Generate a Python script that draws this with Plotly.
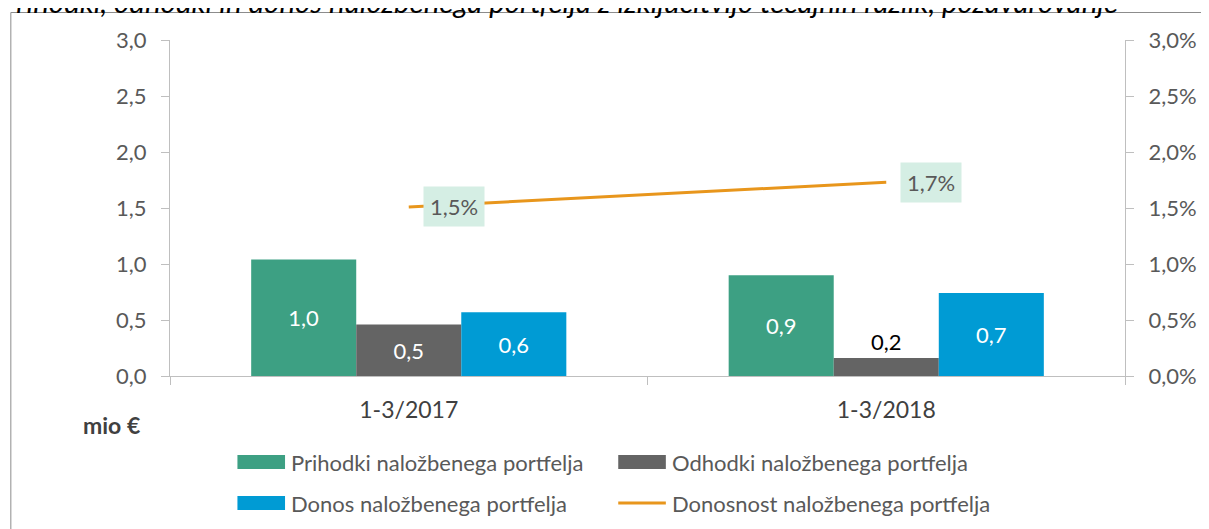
import plotly.graph_objects as go

# Data
categories = ["1-3/2017", "1-3/2018"]
prihodki = [1.04, 0.90]      # mio EUR
odhodki = [0.46, 0.16]
donos = [0.57, 0.74]
donosnost = [1.51, 1.73]     # %

names = ["Prihodki naložbenega portfelja", "Odhodki naložbenega portfelja",
         "Donos naložbenega portfelja", "Donosnost naložbenega portfelja"]
title = "Prihodki, odhodki in donos naložbenega portfelja z izključitvijo tečajnih razlik, pozavarovanje"

# Colours / fonts
c_green = "#3DA083"
c_gray = "#646464"
c_blue = "#009BD4"
c_orange = "#E8961C"
c_label_bg = "#D5EEE4"
c_text = "#595959"
c_axis = "#BFBFBF"
font = "Lato"
fs = 22

# Page pixel geometry (body has an 8px margin, so the figure is shifted)
OFF = 8
W, H = 1209 - OFF, 529 - OFF
PL, PR, PT, PB = 170, 1133, 40, 376       # plot area in page pixels
L, T = PL - OFF, PT - OFF
R, B = W - (PR - OFF), H - (PB - OFF)
pw, ph = PR - PL, PB - PT


def px(x):
    return (x - PL) / pw


def py(y):
    return (PB - y) / ph


fig = go.Figure()
bar_series = [(prihodki, c_green), (odhodki, c_gray), (donos, c_blue)]
for (vals, col), name in zip(bar_series, names):
    pos = ["inside" if v > 0.3 else "outside" for v in vals]
    fig.add_trace(go.Bar(x=categories, y=vals, name=name, marker=dict(color=col, line_width=0),
                         texttemplate="%{y:.1f}", textposition=pos, insidetextanchor="middle",
                         insidetextfont=dict(color="white", size=fs, family=font),
                         outsidetextfont=dict(color="black", size=fs, family=font),
                         cliponaxis=False, showlegend=False))

fig.add_trace(go.Scatter(x=categories, y=donosnost, name=names[3], yaxis="y2", mode="lines",
                         line=dict(color=c_orange, width=3), showlegend=False))

# Labels on the line
for cat, v in zip(categories, donosnost):
    fig.add_annotation(x=cat, y=v, xref="x", yref="y2", text=f"{v:.1f}%".replace(".", ","),
                       showarrow=False, xshift=45, bgcolor=c_label_bg, borderpad=6,
                       font=dict(size=fs, color=c_text, family=font))

# Title (cut off at top, as in the source image)
fig.add_annotation(x=px(-3), y=py(21), xref="paper", yref="paper", text=f"<i>{title}</i>",
                   showarrow=False, xanchor="left", yanchor="bottom",
                   font=dict(size=29.5, color="black", family=font))

fig.add_annotation(x=px(111), y=py(425), xref="paper", yref="paper", text="<b>mio €</b>",
                   showarrow=False, xanchor="center", yanchor="middle",
                   font=dict(size=23, color="#404040", family=font))

# Outer frame
fig.add_shape(type="rect", xref="paper", yref="paper", x0=px(9.5), x1=px(1300), y0=py(700), y1=py(12.5),
              line=dict(color="#8C8C8C", width=1), layer="below")

# Custom legend
legend_items = [
    (names[0], c_green, "bar", 238, 462),
    (names[1], c_gray, "bar", 622, 462),
    (names[2], c_blue, "bar", 238, 503),
    (names[3], c_orange, "line", 622, 503),
]
for name, col, kind, x0, yc in legend_items:
    if kind == "bar":
        fig.add_shape(type="rect", xref="paper", yref="paper", x0=px(x0), x1=px(x0 + 48),
                      y0=py(yc + 7), y1=py(yc - 7), fillcolor=col, line_width=0)
    else:
        fig.add_shape(type="line", xref="paper", yref="paper", x0=px(x0), x1=px(x0 + 48),
                      y0=py(yc), y1=py(yc), line=dict(color=col, width=3))
    fig.add_annotation(x=px(x0 + 52), y=py(yc), xref="paper", yref="paper", text=name,
                       showarrow=False, xanchor="left", yanchor="middle",
                       font=dict(size=fs, color=c_text, family=font))

fig.update_layout(
    width=W, height=H, margin=dict(l=L, r=R, t=T, b=B),
    plot_bgcolor="white", paper_bgcolor="white",
    barmode="group", bargap=0.34, bargroupgap=0,
    separators=",.", font=dict(family=font, size=fs, color=c_text),
    xaxis=dict(showline=True, linecolor=c_axis, linewidth=1, ticks="outside", tickson="boundaries",
               ticklen=8, tickcolor=c_axis, showgrid=False, ticklabelstandoff=13,
               tickfont=dict(size=23, color="#404040")),
    yaxis=dict(range=[0, 3], dtick=0.5, tickformat=".1f", showline=True, linecolor=c_axis,
               ticks="outside", ticklen=8, tickcolor=c_axis, showgrid=False, zeroline=False,
               ticklabelstandoff=10),
    yaxis2=dict(range=[0, 3], dtick=0.5, tickformat=".1f", ticksuffix="%", overlaying="y", side="right",
                showline=True, linecolor=c_axis, ticks="outside", ticklen=8, tickcolor=c_axis,
                showgrid=False, zeroline=False, ticklabelstandoff=10),
)

fig.write_html("out.html")
